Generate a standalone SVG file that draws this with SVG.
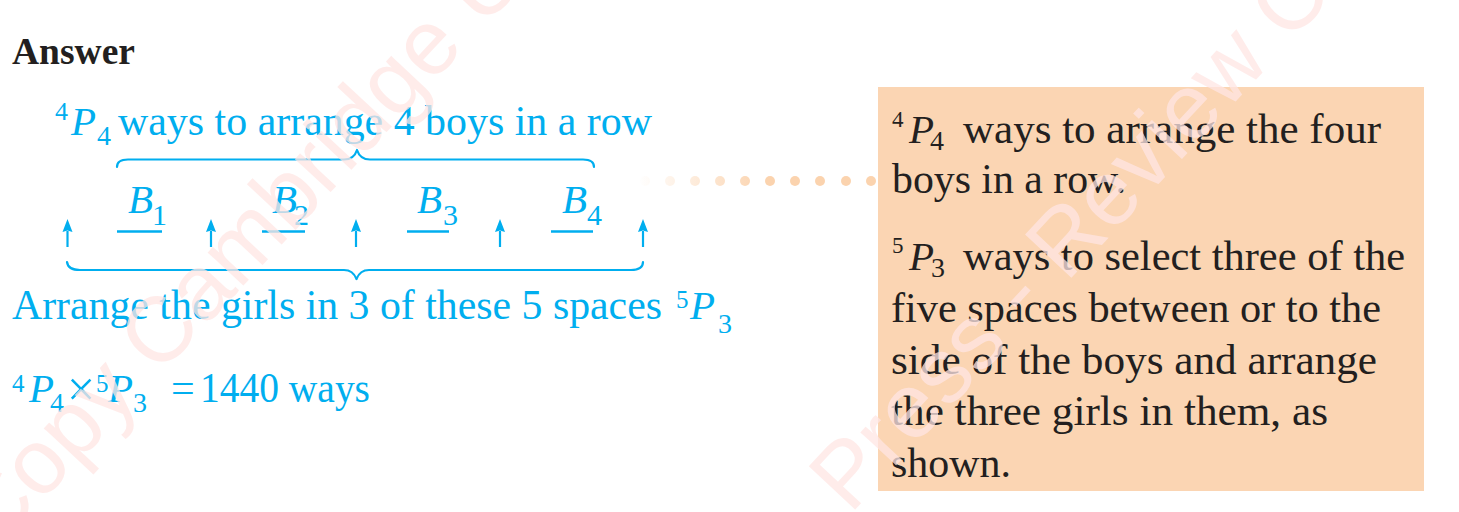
<svg xmlns="http://www.w3.org/2000/svg" width="1459" height="512" viewBox="0 0 1459 512">
  <style>
    .serif { font-family: "Liberation Serif", "Times New Roman", serif; }
    .blue { fill: #00aeef; }
    .ink { fill: #231f20; }
    .it { font-style: italic; }
    .brace { fill: none; stroke: #00aeef; stroke-width: 2.2; stroke-linecap: round; stroke-linejoin: round; }
    .uline { stroke: #00aeef; stroke-width: 2.6; }
    .shaft { stroke: #00aeef; stroke-width: 2.2; }
    .wm { font-family: "Liberation Sans", Arial, sans-serif; font-size: 92px; fill: #ffe6e4; opacity: 0.75; }
  </style>
  <defs>
    <marker id="arrowhead" markerUnits="userSpaceOnUse" markerWidth="13" markerHeight="11" viewBox="0 0 13 11" refX="1" refY="5.5" orient="auto">
      <path d="M0,0.5 L13,5.5 L0,10.5 L1.5,5.5 Z" fill="#00aeef"/>
    </marker>
    <linearGradient id="dotFade" gradientUnits="userSpaceOnUse" x1="638" y1="0" x2="765" y2="0">
      <stop offset="0" stop-color="#fbd3ae" stop-opacity="0"/>
      <stop offset="1" stop-color="#fbd3ae" stop-opacity="1"/>
    </linearGradient>
  </defs>

  <rect x="0" y="0" width="1459" height="512" fill="#ffffff"/>

  <g id="answer-title">
    <text class="serif ink" x="12" y="64" font-size="38" font-weight="bold" textLength="123" lengthAdjust="spacingAndGlyphs">Answer</text>
  </g>

  <g id="line-boys" class="serif blue">
    <text x="55" y="120" font-size="26">4</text>
    <text class="it" x="71" y="135" font-size="41">P</text>
    <text x="97" y="145" font-size="28">4</text>
    <text x="118" y="135" font-size="42" textLength="534" lengthAdjust="spacingAndGlyphs">ways to arrange 4 boys in a row</text>
  </g>

  <g id="brace-top">
    <path class="brace" d="M117,167 Q117,159.5 128,159.5 L344,159.5 Q354,159.5 357,150 Q360,159.5 370,159.5 L583,159.5 Q594,159.5 594,167"/>
  </g>

  <g id="boys-row" class="serif blue">
    <text class="it" x="128" y="213" font-size="41">B</text>
    <text x="152" y="225" font-size="30">1</text>
    <text class="it" x="272" y="213" font-size="41">B</text>
    <text x="294" y="225" font-size="30">2</text>
    <text class="it" x="417" y="213" font-size="41">B</text>
    <text x="443" y="225" font-size="30">3</text>
    <text class="it" x="562" y="213" font-size="41">B</text>
    <text x="587" y="225" font-size="30">4</text>
    <line class="uline" x1="117" y1="231.5" x2="162" y2="231.5"/>
    <line class="uline" x1="262" y1="231.5" x2="305" y2="231.5"/>
    <line class="uline" x1="407" y1="231.5" x2="449" y2="231.5"/>
    <line class="uline" x1="551" y1="231.5" x2="593" y2="231.5"/>
  </g>

  <g id="space-arrows">
    <line class="shaft" x1="67.5" y1="247" x2="67.5" y2="231" marker-end="url(#arrowhead)"/>
    <line class="shaft" x1="211" y1="247" x2="211" y2="231" marker-end="url(#arrowhead)"/>
    <line class="shaft" x1="356" y1="247" x2="356" y2="231" marker-end="url(#arrowhead)"/>
    <line class="shaft" x1="500" y1="247" x2="500" y2="231" marker-end="url(#arrowhead)"/>
    <line class="shaft" x1="643" y1="247" x2="643" y2="231" marker-end="url(#arrowhead)"/>
  </g>

  <g id="brace-bottom">
    <path class="brace" d="M67,262 Q68,270 80,270 L344,270 Q353,270 356.5,279 Q360,270 369,270 L631,270 Q643,270 643,262"/>
  </g>

  <g id="line-girls" class="serif blue">
    <text x="12" y="319" font-size="42" textLength="650" lengthAdjust="spacingAndGlyphs">Arrange the girls in 3 of these 5 spaces</text>
    <text x="676" y="308" font-size="25">5</text>
    <text class="it" x="690" y="319" font-size="41">P</text>
    <text x="718" y="333" font-size="28">3</text>
  </g>

  <g id="line-result" class="serif blue">
    <text x="12" y="392" font-size="25">4</text>
    <text class="it" x="29" y="402" font-size="41">P</text>
    <text x="50" y="412" font-size="28">4</text>
    <text x="67" y="406" font-size="50">×</text>
    <text x="96" y="392" font-size="25">5</text>
    <text class="it" x="108" y="402" font-size="41">P</text>
    <text x="133" y="412" font-size="28">3</text>
    <text x="171" y="402" font-size="42">=</text>
    <text x="200" y="402" font-size="42" textLength="170" lengthAdjust="spacingAndGlyphs">1440 ways</text>
  </g>

  <g id="connectors">
    <g fill="url(#dotFade)">
      <circle cx="645" cy="181" r="5"/>
      <circle cx="670" cy="181" r="5"/>
      <circle cx="695" cy="181" r="5"/>
      <circle cx="720" cy="181" r="5"/>
      <circle cx="745" cy="181" r="5"/>
      <circle cx="770" cy="181" r="5"/>
      <circle cx="795" cy="181" r="5"/>
      <circle cx="820" cy="181" r="5"/>
      <circle cx="846" cy="181" r="5"/>
      <circle cx="871" cy="181" r="5"/>
    </g>
  </g>

  <g id="note-box" class="serif ink">
    <rect x="878" y="87" width="546" height="404" fill="#fbd5b3"/>
    <text x="892" y="127" font-size="23">4</text>
    <text class="it" x="909" y="143" font-size="41">P</text>
    <text x="930" y="150" font-size="28">4</text>
    <text x="963" y="143" font-size="42" textLength="418" lengthAdjust="spacingAndGlyphs">ways to arrange the four</text>
    <text x="892" y="193" font-size="42" textLength="234" lengthAdjust="spacingAndGlyphs">boys in a row.</text>
    <text x="892" y="253" font-size="23">5</text>
    <text class="it" x="909" y="270" font-size="41">P</text>
    <text x="931" y="277" font-size="28">3</text>
    <text x="963" y="270" font-size="42" textLength="442" lengthAdjust="spacingAndGlyphs">ways to select three of the</text>
    <text x="891" y="322" font-size="42" textLength="490" lengthAdjust="spacingAndGlyphs">five spaces between or to the</text>
    <text x="891" y="374" font-size="42" textLength="486" lengthAdjust="spacingAndGlyphs">side of the boys and arrange</text>
    <text x="891" y="425" font-size="42" textLength="437" lengthAdjust="spacingAndGlyphs">the three girls in them, as</text>
    <text x="891" y="477" font-size="42" textLength="120" lengthAdjust="spacingAndGlyphs">shown.</text>
  </g>

  <g id="watermark">
    <text class="wm" transform="translate(-5,552) rotate(-47)">Copy Cambridge University</text>
    <text class="wm" transform="translate(850,515) rotate(-47)">Press - Review Copy</text>
  </g>
</svg>
